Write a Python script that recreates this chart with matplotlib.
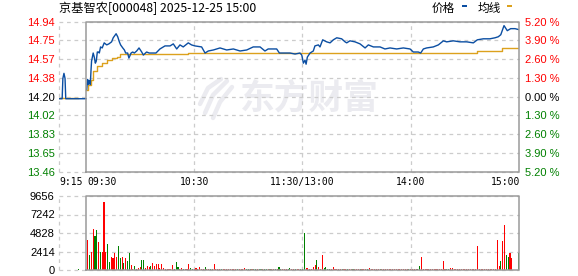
import matplotlib
matplotlib.use("Agg")
import matplotlib.pyplot as plt
from matplotlib.patches import Rectangle
from matplotlib.transforms import blended_transform_factory

# 画布尺寸（像素）
W, H = 578, 276

# ---------------- 数据 ----------------
stock_title = "京基智农[000048] 2025-12-25 15:00"
pre_close = 14.20
pct_levels = [-5.2, -3.9, -2.6, -1.3, 0.0, 1.3, 2.6, 3.9, 5.2]

# 集合竞价（9:15-9:30，分钟数相对 9:30）
pre_minutes = [-15, -13.2, -12.8, -12.2, -11.6, -11.2, 0]
pre_prices = [14.18, 14.18, 14.38, 14.43, 14.38, 14.18, 14.18]
pre_avg_minutes = [-15, -4.6]
pre_avg_prices = [14.19, 14.19]

# 分时价格（分钟数相对 9:30，午间休市已去掉，13:00 = 120）
price_minutes = [
    0.4, 0.9, 1.3, 1.8, 2.4, 2.8, 3.1, 4.0, 4.6, 5.2, 5.7, 6.3, 6.9, 7.4, 8.1,
    9.0, 10.1, 11.5, 12.7, 14.2, 15.1, 16.7, 17.6, 18.5, 19.2, 20.4, 21.3, 22,
    23.1, 23.8, 25, 25.9, 26.8, 28.1, 29.4, 30.9, 31.8, 33.6, 35.1, 38.8, 41,
    43.8, 46.6, 48.4, 50.3, 52.1, 53.9, 56.7, 58.5, 60.4, 64.1, 66, 67.8, 70.6,
    74.3, 78, 81.7, 85.4, 89.1, 92.7, 96.5, 99.2, 101, 105.7, 107.2, 111.2,
    113.1, 115.9, 118.6, 119.6, 120.5, 121.4, 122, 122.7, 124.2, 126, 126.9,
    128.8, 129.7, 131.2, 133.4, 135.3, 137.1, 139, 141.7, 143.6, 144.5, 146.3,
    149.1, 151.9, 154.7, 156.5, 159.3, 163, 165.7, 168.5, 172.2, 175.9, 179.6,
    181.4, 184.2, 185.5, 187, 188.8, 192.5, 195.3, 198.1, 199.9, 203.6, 207.3,
    211, 214.7, 216.9, 220.2, 223.9, 226.7, 228.5, 229.9, 231.7, 233.5, 235.4,
    237.8, 240,
]
price_values = [
    14.27, 14.37, 14.32, 14.36, 14.32, 14.46, 14.55, 14.63, 14.59, 14.53, 14.55,
    14.64, 14.64, 14.63, 14.69, 14.68, 14.73, 14.71, 14.72, 14.74, 14.78, 14.82,
    14.79, 14.74, 14.71, 14.68, 14.66, 14.63, 14.63, 14.58, 14.63, 14.64, 14.63,
    14.65, 14.68, 14.64, 14.61, 14.64, 14.63, 14.63, 14.67, 14.70, 14.70, 14.72,
    14.67, 14.71, 14.69, 14.73, 14.71, 14.70, 14.69, 14.63, 14.65, 14.66, 14.68,
    14.66, 14.67, 14.65, 14.66, 14.69, 14.69, 14.65, 14.67, 14.67, 14.63, 14.63,
    14.63, 14.62, 14.63, 14.61, 14.53, 14.56, 14.52, 14.59, 14.63, 14.65, 14.70,
    14.71, 14.69, 14.76, 14.74, 14.73, 14.76, 14.78, 14.77, 14.74, 14.73, 14.75,
    14.74, 14.72, 14.68, 14.71, 14.69, 14.69, 14.67, 14.68, 14.67, 14.68, 14.67,
    14.64, 14.64, 14.63, 14.67, 14.68, 14.69, 14.71, 14.75, 14.74, 14.75, 14.74,
    14.74, 14.73, 14.76, 14.77, 14.77, 14.78, 14.79, 14.81, 14.90, 14.85, 14.87,
    14.87, 14.86,
]

# 均价线
avg_minutes = [0, 1.3, 2.8, 4, 5.9, 8.7, 11.5, 14.2, 17, 18.8, 56.7, 139,
               216.6, 230.4, 240]
avg_values = [14.27, 14.32, 14.36, 14.45, 14.50, 14.53, 14.56, 14.58, 14.59,
              14.617, 14.627, 14.635, 14.653, 14.676, 14.676]

# 成交量（每分钟，0 = 9:30，120 = 13:00）
volumes = [
    0, 3950, 2015, 2320, 5300, 4390, 5180, 3640, 2320, 2400,
    8860, 2320, 3440, 1060, 1720, 1600, 2200, 1760, 3070, 1600,
    1760, 880, 1600, 1200, 2200, 600, 180, 480, 130, 220,
    350, 1330, 1240, 220, 480, 350, 480, 880, 480, 750,
    750, 220, 750, 220, 100, 100, 100, 100, 600, 100,
    1060, 350, 100, 260, 130, 130, 100, 750, 260, 100,
    130, 220, 100, 350, 130, 100, 350, 100, 100, 100,
    100, 750, 120, 100, 110, 100, 120, 100, 100, 110,
    100, 120, 100, 110, 100, 100, 120, 100, 260, 100,
    110, 100, 120, 100, 100, 110, 100, 120, 100, 100,
    110, 100, 120, 100, 100, 110, 100, 350, 100, 120,
    100, 110, 100, 260, 100, 120, 100, 110, 100, 100,
    100, 4820, 220, 260, 100, 130, 350, 600, 1360, 350,
    100, 2015, 220, 350, 130, 100, 100, 350, 100, 110,
    100, 120, 100, 110, 100, 100, 120, 100, 110, 100,
    100, 120, 100, 110, 100, 100, 120, 260, 100, 110,
    100, 120, 100, 110, 100, 100, 120, 100, 110, 100,
    120, 100, 110, 100, 100, 120, 100, 110, 100, 100,
    100, 120, 100, 110, 100, 570, 1750, 100, 110, 100,
    120, 100, 110, 100, 100, 120, 100, 110, 1130, 100,
    110, 100, 260, 260, 100, 120, 100, 110, 100, 100,
    120, 100, 110, 100, 100, 120, 100, 3070, 100, 110,
    100, 120, 100, 110, 100, 100, 120, 100, 3860, 480,
    1130, 3730, 5830, 2015, 1760, 2200, 1600, 60, 0, 0,
    2200,
]
# r = 上涨（红），g = 下跌（绿）
vol_dirs = (
    "rrgrrggrgr" "rrggrrrrgg" "rgrggrrgrr" "rggrrrgrrr" "rrrrrrrrrg"
    "ggrrgrrrgg" "rrrrrrgrrg" "rrrrrgrrrr" "rrrrgrrrrg" "ggrggrggrg"
    "grgrrgrggr" "rrggrrgrrg" "ggrrrrrrgr" "rrgggg" "rrrr" "rrgrrgrrgr"
    "rrgrrrgrrr" "rrrgrrrrrr" "rrrrrrrrrg" "rrrrggrrrr" "rrrrrrrrrr"
    "ggrrrrrrrr" "rrrrrrrrrr" "rrrrrrrrrr" "grrggrrrrr" "g"
)
pre_vol_minute = -4.3
pre_vol = 150
vol_ticks = [0, 2414, 4828, 7242, 9656]

time_labels = ["9:15", "09:30", "10:30", "11:30/13:00", "14:00", "15:00"]
time_positions = [-15, 0.7, 60, 120, 180, 240.5]
time_aligns = ["left", "left", "center", "center", "center", "right"]

# ---------------- 样式 ----------------
UP = "#ff0000"
DOWN = "#008000"
PRICE_COLOR = "#0b4ea2"
AVG_COLOR = "#dca11d"
FRAME = "#9a9a9a"
GRID = "#cccccc"
MARK = "#ebebf0"
NUM_FONT = "Liberation Sans"
CJK_FONT = ["Noto Sans CJK SC", "DejaVu Sans"]


def px_rect(x0, y0, x1, y1):
    # 像素坐标（左上为原点）转为 figure 坐标
    return [x0 / W, 1 - y1 / H, (x1 - x0) / W, (y1 - y0) / H]


def draw_frame(ax, ymin, ymax, levels, vlines):
    """画虚线网格 + 交易时段的实线边框"""
    for y in levels:
        ax.plot([-15, 240], [y, y], color=GRID, lw=0.9, ls=(0, (3, 3)),
                zorder=1, clip_on=False)
    for x in vlines:
        ax.plot([x, x], [ymin, ymax], color=GRID, lw=0.9, ls=(0, (3, 3)),
                zorder=1, clip_on=False)
    ax.plot([0, 0, 240, 240, 0], [ymin, ymax, ymax, ymin, ymin],
            color=FRAME, lw=1.1, zorder=5, clip_on=False)
    for s in ax.spines.values():
        s.set_visible(False)


def draw_watermark(ax):
    """东方财富水印（文字 + 简化的羽毛标志）"""
    ax.text(0.545, 0.49, "东方财富", transform=ax.transAxes, ha="center",
            va="center", fontsize=25, fontweight="bold", family=CJK_FONT,
            color=MARK, zorder=0)
    # 标志：三片弯曲的羽毛，按像素位置换算到 axes 坐标
    blades = [
        [(200, 104), (208, 88), (221, 79)],
        [(205, 113), (213, 95), (227, 81)],
        [(213, 118), (220, 102), (232, 87)],
    ]
    for blade in blades:
        xs = [(px - 58.9) / 460.1 for px, _ in blade]
        ys = [(171.7 - py) / 150 for _, py in blade]
        ax.plot(xs, ys, transform=ax.transAxes, color=MARK, lw=3.2,
                solid_capstyle="round", zorder=0)


fig = plt.figure(figsize=(W / 100, H / 100), dpi=100)

# ---------- 分时价格图 ----------
price_levels = [pre_close * (1 + p / 100) for p in pct_levels]
pmin, pmax = price_levels[0], price_levels[-1]

ax = fig.add_axes(px_rect(58.9, 21.7, 519, 171.7))
ax.set_xlim(-15, 240)
ax.set_ylim(pmin, pmax)
draw_frame(ax, pmin, pmax, price_levels, [-15, 60, 120, 180])
draw_watermark(ax)

ax.plot(pre_avg_minutes, pre_avg_prices, color=AVG_COLOR, lw=1.0, zorder=3)
ax.plot(pre_minutes, pre_prices, color=PRICE_COLOR, lw=1.0, zorder=4)
ax.plot(avg_minutes, avg_values, color=AVG_COLOR, lw=1.0, zorder=3,
        drawstyle="steps-post")
ax.plot(price_minutes, price_values, color=PRICE_COLOR, lw=1.0, zorder=4)

ax.set_xticks([])
ax.set_yticks(price_levels)
ax.set_yticklabels([f"{v:.2f}" for v in price_levels], fontsize=8,
                   family=NUM_FONT)
ax.tick_params(axis="y", length=0, pad=3)
for lab, p in zip(ax.get_yticklabels(), pct_levels):
    lab.set_color(UP if p > 0 else (DOWN if p < 0 else "black"))

# 右侧涨跌幅
rax = ax.twinx()
rax.set_ylim(pmin, pmax)
rax.set_yticks(price_levels)
rax.set_yticklabels([f"{abs(p):.2f} %" for p in pct_levels], fontsize=8,
                    family=NUM_FONT)
rax.tick_params(axis="y", length=0, pad=4)
for lab, p in zip(rax.get_yticklabels(), pct_levels):
    lab.set_color(UP if p > 0 else (DOWN if p < 0 else "black"))
for s in rax.spines.values():
    s.set_visible(False)

# 时间刻度
tt = blended_transform_factory(ax.transData, fig.transFigure)
for lab, x, a in zip(time_labels, time_positions, time_aligns):
    ax.text(x, 1 - 181.7 / H, lab, transform=tt, ha=a, va="center",
            fontsize=7, family="DejaVu Sans Mono", color="black")

# ---------- 成交量 ----------
vax = fig.add_axes(px_rect(58.9, 196, 519, 270))
vax.set_xlim(-15, 240)
vax.set_ylim(0, vol_ticks[-1])
draw_frame(vax, 0, vol_ticks[-1], vol_ticks, [-15, 60, 120, 180])
colors = [UP if d == "r" else DOWN for d in vol_dirs]
vax.bar(range(len(volumes)), volumes, width=0.6, color=colors,
        linewidth=0, antialiased=False, zorder=3)
vax.bar([pre_vol_minute], [pre_vol], width=0.6, color=DOWN, linewidth=0,
        antialiased=False, zorder=3)
vax.set_xticks([])
vax.set_yticks(vol_ticks)
vax.set_yticklabels([str(v) for v in vol_ticks], fontsize=8, family=NUM_FONT)
vax.tick_params(axis="y", length=0, pad=3)

# ---------- 标题与图例 ----------
fig.text(59 / W, 1 - 8.3 / H, stock_title, ha="left", va="center",
         fontsize=8.8, family=CJK_FONT, color="black")
fig.text(431.7 / W, 1 - 8.3 / H, "价格", ha="left", va="center",
         fontsize=8.4, family=CJK_FONT, color="black")
fig.text(477.3 / W, 1 - 8.3 / H, "均线", ha="left", va="center",
         fontsize=8.4, family=CJK_FONT, color="black")
fig.add_artist(Rectangle((461.7 / W, 1 - 7 / H), 5 / W, 2.2 / H,
                         transform=fig.transFigure, color=PRICE_COLOR, lw=0))
fig.add_artist(Rectangle((507.3 / W, 1 - 7 / H), 5 / W, 2.2 / H,
                         transform=fig.transFigure, color=AVG_COLOR, lw=0))

fig.savefig("out.png", dpi=100)
